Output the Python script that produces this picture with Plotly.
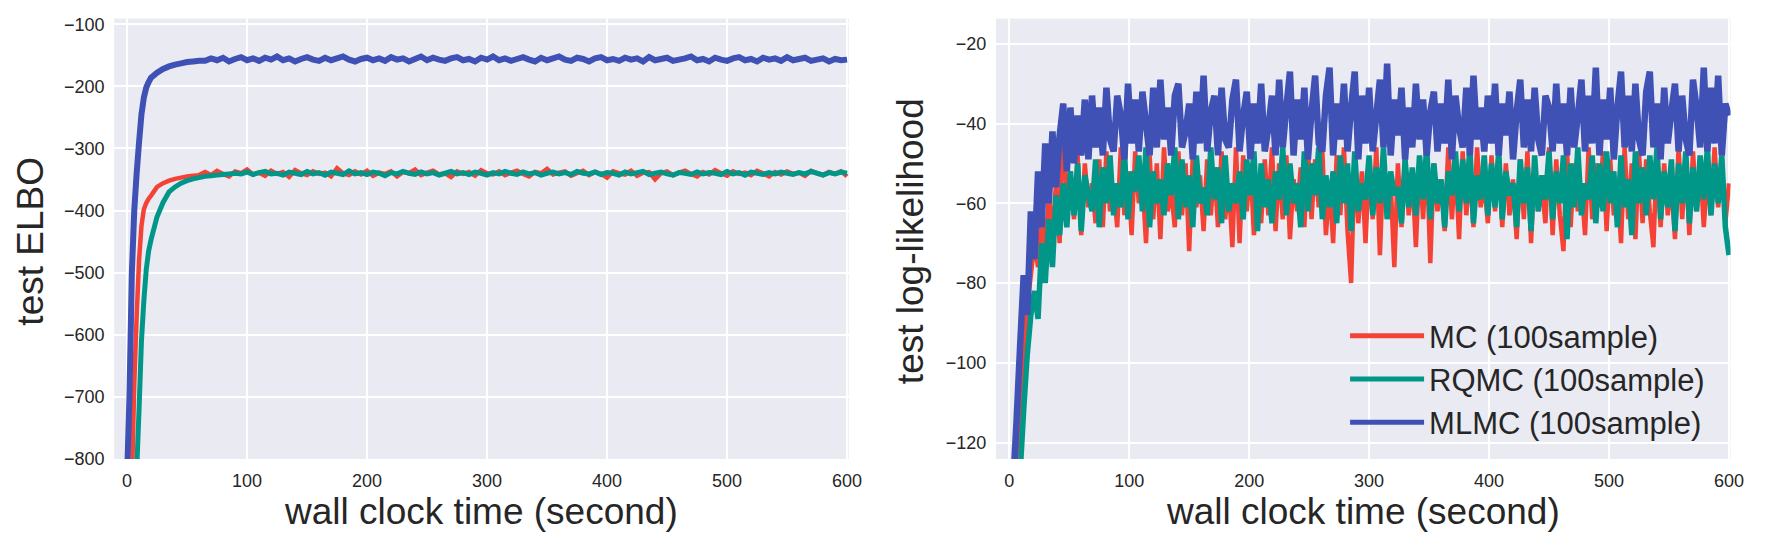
import plotly.graph_objects as go

# ---------------- data ----------------
# Left panel: test ELBO. Time stamps (seconds): every 2 s during warm-up, then every 5 s.
elbo_time = list(range(0, 20, 2)) + list(range(20, 605, 5))
elbo_mc = [-1000, -950, -840, -680, -570, -480, -425, -398, -388, -381,
           -376, -362, -356, -352, -349, -347, -345, -344, -343,
           -338, -343, -336, -341, -345, -337, -340, -334, -342, -339,
           -344, -336, -341, -338, -346, -335, -340, -343, -337, -341,
           -339, -345, -332, -340, -343, -337, -342, -336, -344, -339,
           -341, -337, -345, -338, -340, -334, -343, -339, -336, -342,
           -340, -346, -337, -341, -338, -344, -335, -340, -342, -337,
           -343, -339, -336, -341, -345, -338, -340, -333, -342, -339,
           -337, -344, -340, -336, -343, -338, -341, -347, -337, -340,
           -342, -336, -344, -339, -338, -350, -340, -337, -343, -339,
           -336, -341, -345, -338, -342, -335, -340, -344, -337, -341,
           -339, -343, -336, -340, -345, -338, -342, -337, -341, -339,
           -344, -336, -340, -343, -338, -341, -337, -345]
elbo_rqmc = [-1100, -1050, -980, -900, -820, -720, -610, -545, -495, -465,
             -447, -410, -387, -370, -362, -356, -352, -349, -347, -345, -344, -343, -342, -341, -340,
             -341, -338, -342, -339, -337, -341, -340, -343, -338, -340,
             -342, -337, -341, -339, -343, -338, -340, -342, -336, -341,
             -339, -342, -338, -340, -344, -339, -341, -337, -340, -342,
             -338, -341, -339, -343, -340, -337, -341, -339, -342, -338,
             -340, -343, -339, -341, -337, -340, -342, -338, -341, -339,
             -343, -340, -338, -341, -339, -342, -337, -340, -341, -338,
             -342, -339, -340, -343, -338, -341, -339, -337, -342, -340,
             -338, -341, -343, -339, -340, -342, -338, -341, -339, -340,
             -342, -337, -341, -339, -343, -338, -340, -342, -339, -341,
             -338, -340, -342, -339, -341, -337, -340, -343, -339, -341,
             -338, -340]
elbo_mlmc = [-830, -700, -500, -400, -340, -290, -245, -218, -202, -193,
             -186, -178, -172, -168, -165, -163, -161, -160, -159,
             -159, -155, -158, -154, -160, -156, -153, -158, -155, -159,
             -154, -157, -152, -158, -155, -160, -156, -153, -157, -159,
             -154, -158, -155, -152, -157, -160, -156, -154, -158, -155,
             -159, -153, -157, -155, -160, -156, -152, -158, -154, -157,
             -159, -155, -153, -158, -156, -160, -154, -157, -152, -158,
             -155, -159, -156, -153, -157, -160, -154, -158, -155, -152,
             -157, -159, -154, -156, -160, -155, -153, -158, -156, -159,
             -154, -157, -155, -160, -153, -158, -156, -154, -159, -157,
             -155, -152, -158, -156, -160, -154, -157, -159, -155, -153,
             -158, -156, -160, -154, -157, -155, -159, -153, -158, -156,
             -154, -159, -157, -155, -160, -156, -158, -157]

# Right panel: test log-likelihood, sampled every 3 s (0..600)
LL_STEP = 3
ll_mc = [-150, -138, -124, -110, -96, -86, -78, -70, -76, -63, -72, -58, -68, -55, -70,
         -35, -62, -52, -64, -48, -68, -50, -61, -55, -65, -49, -66, -47, -62, -56, -66, -46, -63, -52, -68,
         -47, -60, -54, -70, -48, -64, -50, -69, -46, -62, -57, -66, -47, -63, -50, -72, -48, -61, -53, -67,
         -49, -63, -51, -66, -47, -64, -55, -71, -46, -70, -48, -62, -50, -68, -53, -65, -49, -63, -46, -67,
         -50, -64, -48, -69, -54, -62, -51, -66, -46, -64, -49, -61, -47, -68, -55, -70, -48, -63, -46, -67,
         -80, -49, -65, -52, -70, -50, -64, -46, -73, -49, -62, -55, -76, -50, -66, -48, -63, -53, -71, -49,
         -64, -47, -75, -50, -62, -54, -67, -46, -64, -50, -69, -47, -63, -52, -66, -46, -61, -55, -65, -48,
         -62, -47, -66, -50, -63, -54, -69, -49, -64, -47, -70, -50, -62, -56, -65, -46, -68, -49, -63, -72,
         -47, -66, -50, -62, -55, -68, -46, -64, -50, -61, -47, -67, -49, -63, -54, -70, -46, -64, -50, -69,
         -47, -65, -49, -62, -71, -47, -66, -50, -63, -55, -69, -46, -64, -49, -68, -47, -62, -50, -66, -53,
         -63, -46, -61, -49, -65, -55]
ll_rqmc = [-160, -150, -140, -128, -112, -98, -88, -82, -89, -70, -80, -64, -76, -58, -68,
           -55, -66, -52, -63, -50, -67, -53, -58, -62, -49, -66, -51, -60, -48, -63, -55, -61, -47, -64, -52,
           -57, -48, -62, -46, -66, -52, -60, -54, -63, -50, -58, -46, -64, -49, -61, -53, -66, -48, -60, -56,
           -63, -46, -59, -51, -65, -48, -62, -55, -60, -52, -64, -49, -58, -47, -67, -50, -61, -54, -65, -52,
           -59, -46, -63, -50, -60, -55, -66, -47, -62, -50, -58, -46, -64, -53, -61, -52, -65, -48, -60, -50,
           -67, -47, -62, -55, -59, -48, -63, -51, -60, -46, -64, -52, -58, -56, -65, -49, -61, -51, -63, -48,
           -59, -46, -64, -50, -60, -54, -66, -52, -58, -47, -62, -49, -60, -46, -65, -53, -59, -48, -63, -50,
           -61, -47, -64, -52, -58, -55, -66, -49, -60, -51, -67, -48, -62, -53, -59, -47, -64, -52, -60, -48,
           -69, -50, -61, -46, -63, -55, -59, -48, -65, -50, -62, -47, -60, -52, -66, -48, -61, -54, -68, -47,
           -60, -51, -63, -48, -59, -46, -64, -52, -61, -49, -67, -50, -60, -47, -65, -51, -62, -48, -59, -46,
           -63, -50, -60, -48, -66, -73]
ll_mlmc = [-140, -132, -115, -96, -78, -88, -62, -74, -52, -66, -45, -60, -42, -56, -43,
           -35, -52, -36, -50, -38, -48, -34, -49, -33, -46, -36, -48, -31, -44, -47, -33, -38, -49, -30, -45,
           -34, -47, -32, -40, -48, -31, -46, -29, -44, -36, -48, -33, -30, -46, -42, -35, -49, -32, -45, -28,
           -47, -37, -33, -48, -31, -44, -46, -34, -29, -47, -38, -32, -49, -35, -45, -30, -47, -41, -33, -48,
           -29, -46, -36, -27, -48, -34, -44, -31, -49, -37, -28, -45, -47, -33, -26, -48, -35, -44, -30, -47,
           -36, -27, -49, -33, -45, -31, -47, -38, -29, -46, -25, -48, -34, -43, -31, -49, -36, -46, -30, -44,
           -34, -48, -37, -32, -47, -35, -45, -29, -49, -33, -41, -46, -31, -48, -28, -44, -36, -47, -33, -45,
           -30, -48, -35, -43, -32, -49, -37, -29, -46, -34, -47, -31, -44, -48, -33, -36, -47, -30, -45, -35,
           -48, -31, -46, -38, -29, -47, -33, -45, -26, -48, -34, -44, -31, -49, -36, -27, -46, -33, -47, -30,
           -44, -48, -32, -27, -46, -35, -49, -31, -45, -37, -30, -47, -33, -44, -48, -29, -36, -46, -26, -47,
           -31, -45, -28, -48, -35, -38]

series_names = ["MC (100sample)", "RQMC (100sample)", "MLMC (100sample)"]
colors = ["#F44336", "#009688", "#3F51B5"]
x_ticks = [0, 100, 200, 300, 400, 500, 600]
elbo_ticks = [-800, -700, -600, -500, -400, -300, -200, -100]
ll_ticks = [-120, -100, -80, -60, -40, -20]

# ---------------- figure ----------------
W, H = 1774, 555
fig = go.Figure()

elbo_widths = [4.5, 5, 6]
for vals, name, col, lw in zip([elbo_mc, elbo_rqmc, elbo_mlmc], series_names, colors, elbo_widths):
    fig.add_trace(go.Scatter(x=elbo_time[:len(vals)], y=vals,
                             mode="lines", name=name, showlegend=False,
                             line=dict(color=col, width=lw, simplify=False),
                             xaxis="x", yaxis="y"))

ll_widths = [4.5, 5.5, 6.5]
for vals, name, col, lw in zip([ll_mc, ll_rqmc, ll_mlmc], series_names, colors, ll_widths):
    fig.add_trace(go.Scatter(x=[LL_STEP * i for i in range(len(vals))], y=vals,
                             mode="lines", name=name, legendgroup=name,
                             line=dict(color=col, width=lw, simplify=False),
                             xaxis="x2", yaxis="y2"))

bg = "#EAEAF2"
FONT = "Liberation Sans, Arial, sans-serif"
tick_font = dict(family=FONT, size=18, color="#262626")
title_font = dict(family=FONT, size=37, color="#262626")


def px_x(p):
    return p / W


def px_y(p):
    return 1 - p / H


common_x = dict(showgrid=True, gridcolor="white", gridwidth=1.6, zeroline=False,
                tickvals=x_ticks, tickfont=tick_font, ticks="outside", ticklen=5,
                tickcolor="rgba(0,0,0,0)", showline=False, fixedrange=True)
common_y = dict(showgrid=True, gridcolor="white", gridwidth=1.6, zeroline=False,
                tickfont=tick_font, ticks="outside", ticklen=5,
                tickcolor="rgba(0,0,0,0)", showline=False, fixedrange=True)

TOP, BOTTOM = 15, 466.7

fig.update_layout(
    width=W, height=H,
    margin=dict(l=0, r=0, t=0, b=0),
    paper_bgcolor="white",
    plot_bgcolor=bg,
    xaxis=dict(domain=[px_x(115), px_x(855)], range=[-10.75, 601.4], anchor="y", **common_x),
    yaxis=dict(domain=[px_y(BOTTOM), px_y(TOP)], range=[-800, -91], anchor="x",
               tickvals=elbo_ticks, **common_y),
    xaxis2=dict(domain=[px_x(1003.3), px_x(1743.3)], range=[-11.1, 601.3], anchor="y2", **common_x),
    yaxis2=dict(domain=[px_y(BOTTOM), px_y(TOP)], range=[-124.1, -13.7], anchor="x2",
                tickvals=ll_ticks, **common_y),
    showlegend=True,
    legend=dict(x=px_x(1355), y=px_y(313), xanchor="left", yanchor="top",
                bgcolor="rgba(0,0,0,0)", borderwidth=0,
                font=dict(family=FONT, size=31, color="#262626"),
                itemwidth=74, tracegroupgap=5, traceorder="normal",
                itemsizing="constant"),
    annotations=[
        dict(text="test ELBO", x=px_x(31), y=px_y(243), xref="paper", yref="paper",
             textangle=-90, showarrow=False, font=title_font, xanchor="center", yanchor="middle"),
        dict(text="test log-likelihood", x=px_x(918), y=px_y(243), xref="paper", yref="paper",
             textangle=-90, showarrow=False, font=title_font, xanchor="center", yanchor="middle"),
        dict(text="wall clock time (second)", x=px_x(485), y=px_y(521), xref="paper", yref="paper",
             showarrow=False, font=title_font, xanchor="center", yanchor="middle"),
        dict(text="wall clock time (second)", x=px_x(1373), y=px_y(521), xref="paper", yref="paper",
             showarrow=False, font=title_font, xanchor="center", yanchor="middle"),
    ],
)

fig.write_html("out.html")
